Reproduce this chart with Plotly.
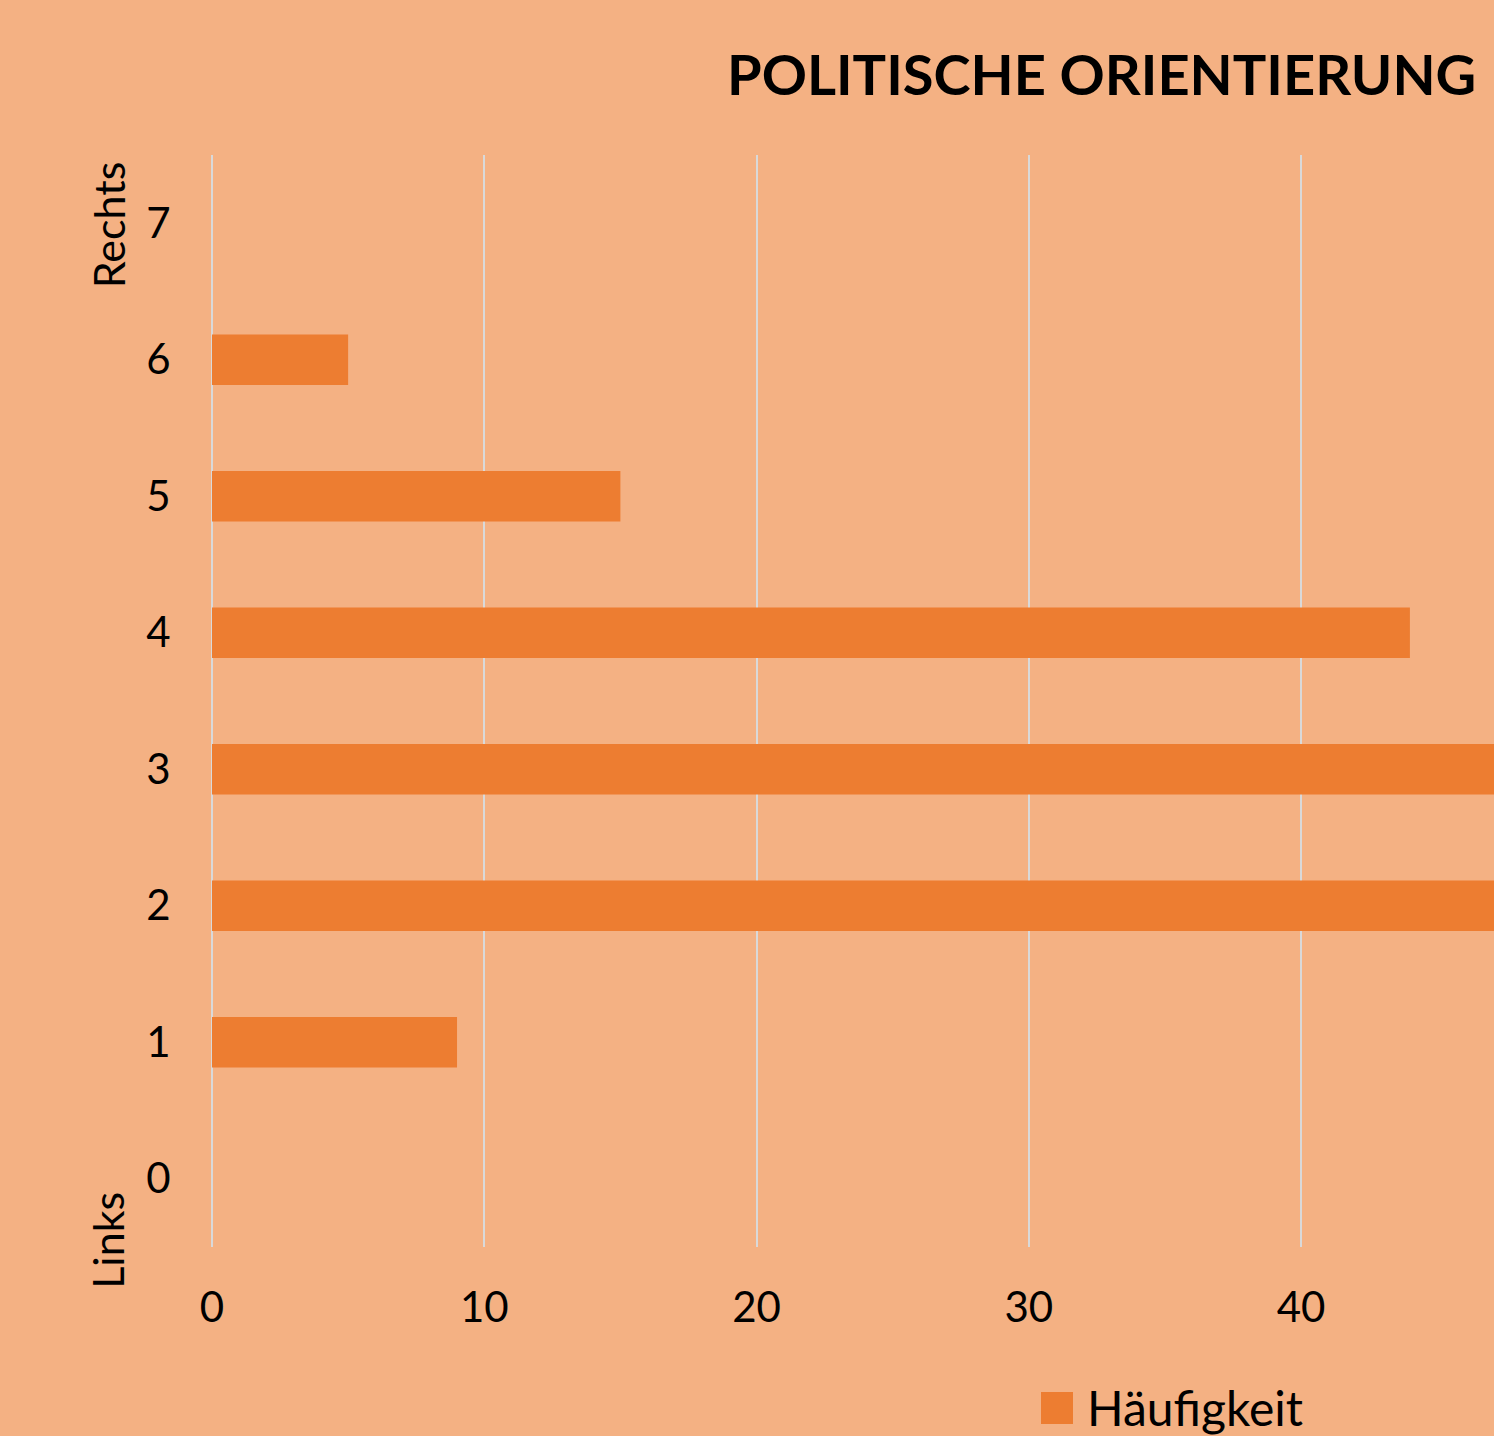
"""Politische Orientierung – horizontales Balkendiagramm (Excel-Stil) mit Plotly."""
import plotly.graph_objects as go

# Skala 0 (links) bis 7 (rechts) und Häufigkeiten
skala = [0, 1, 2, 3, 4, 5, 6, 7]
haeufigkeit = [0, 9, 52, 55, 44, 15, 5, 0]
x_ticks = [0, 10, 20, 30, 40]

HINTERGRUND = "#F4B183"
BALKEN = "#ED7D31"
GRILLE = "#D9D9D9"
SCHRIFT = "Lato, 'Open Sans', sans-serif"

fig = go.Figure()
fig.add_trace(go.Bar(
    x=haeufigkeit, y=skala, orientation="h",
    width=0.37, marker=dict(color=BALKEN, line=dict(width=0)),
    name="Häufigkeit", showlegend=False,
))

# Achsenbeschriftung an den Enden der Skala
fig.add_annotation(x=0, xref="paper", y=7, yref="y", text="Rechts",
                   textangle=-90, showarrow=False, xanchor="center",
                   yanchor="middle", xshift=-104, yshift=-2,
                   font=dict(size=43, color="black", family=SCHRIFT))
fig.add_annotation(x=0, xref="paper", y=0, yref="y", text="Links",
                   textangle=-90, showarrow=False, xanchor="center",
                   yanchor="middle", xshift=-104, yshift=-62,
                   font=dict(size=43, color="black", family=SCHRIFT))

# Legende von Hand (Excel-Quadrat)
fig.add_shape(type="rect", xref="paper", yref="paper",
              x0=(1041 - 212) / 1282, x1=(1073 - 212) / 1282,
              y0=-(1424 - 1247) / 1092, y1=-(1392 - 1247) / 1092,
              fillcolor=BALKEN, line=dict(width=0))
fig.add_annotation(x=(1085 - 212) / 1282, xref="paper",
                   y=-(1407 - 1247) / 1092, yref="paper",
                   text="Häufigkeit", showarrow=False,
                   xanchor="left", yanchor="middle",
                   font=dict(size=48, color="black", family=SCHRIFT))

fig.update_layout(
    width=1494, height=1436,
    margin=dict(l=212, r=0, t=155, b=189),
    paper_bgcolor=HINTERGRUND, plot_bgcolor=HINTERGRUND,
    font=dict(family=SCHRIFT, color="black", size=42),
    title=dict(text="<b>POLITISCHE ORIENTIERUNG</b>",
               x=(727 - 212) / 1282, xref="paper", xanchor="left",
               y=1 - 75 / 1436, yref="container", yanchor="middle",
               font=dict(size=56, color="black", family=SCHRIFT)),
    xaxis=dict(range=[0, 1282 / 27.225], tickvals=x_ticks,
               showgrid=True, gridcolor=GRILLE, gridwidth=2,
               zeroline=True, zerolinecolor=GRILLE, zerolinewidth=2,
               showline=False,
               ticks="outside", ticklen=24, tickcolor="rgba(0,0,0,0)",
               tickfont=dict(size=42)),
    yaxis=dict(range=[-0.5, 7.5], tickvals=skala,
               showgrid=False, zeroline=False, showline=False,
               ticks="outside", ticklen=32, tickcolor="rgba(0,0,0,0)",
               tickfont=dict(size=42)),
    showlegend=False,
)

fig.write_html("out.html", config={"displayModeBar": False},
               post_script="document.body.style.margin='0';")
